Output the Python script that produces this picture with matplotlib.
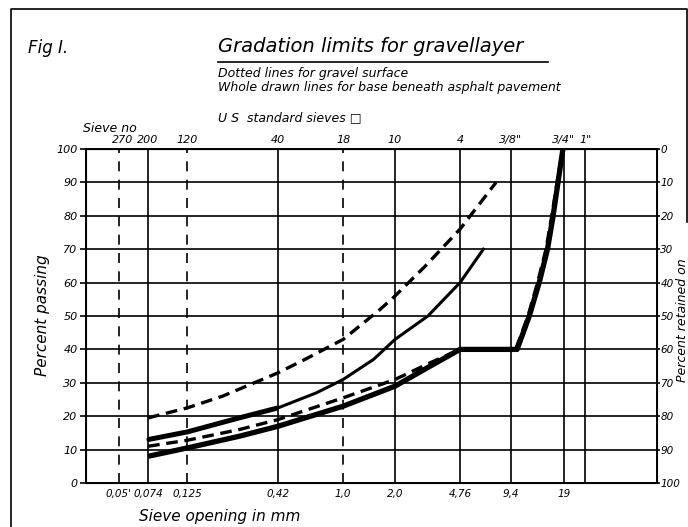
import numpy as np
import matplotlib.pyplot as plt
from matplotlib.lines import Line2D

# sieve openings (mm) and percent passing
up_dash_x = [0.074, 0.125, 0.2, 0.42, 0.6, 1.0, 1.64, 2.0, 3.0, 4.76, 7.7]
up_dash_y = [19.5, 22.5, 26, 33, 37, 43, 52, 56, 65, 76, 90]

up_solid_x = [0.074, 0.125, 0.25, 0.42, 0.7, 1.0, 1.5, 2.0, 3.1, 4.76, 6.5]
up_solid_y = [13, 15.3, 19.5, 22.5, 27, 31, 37, 43, 50, 60, 70]

low_dash_x = [0.074, 0.125, 0.25, 0.42, 1.0, 2.0, 3.2, 4.76, 10.0, 11.8, 13.4, 15.0, 16.2, 17.4, 18.7]
low_dash_y = [11, 12.8, 16, 19, 25.5, 31, 36, 40, 40, 50, 60, 70, 80, 90, 100]

low_solid_x = [0.074, 0.125, 0.25, 0.42, 1.0, 2.0, 3.2, 4.76, 10.2, 12.0, 13.7, 15.3, 16.5, 17.6, 18.8]
low_solid_y = [8, 10.5, 14, 17, 23, 29, 35, 40, 40, 50, 60, 70, 80, 90, 100]

# grid verticals
solid_sieves = [0.074, 0.42, 2.0, 4.76, 9.4, 19, 25.4]
dashed_sieves = [0.05, 0.125, 1.0]

bottom_ticks = [0.05, 0.074, 0.125, 0.42, 1.0, 2.0, 4.76, 9.4, 19]
bottom_labels = ["0,05'", "0,074", "0,125", "0,42", "1,0", "2,0", "4,76", "9,4", "19"]
top_ticks = [0.053, 0.074, 0.125, 0.42, 1.0, 2.0, 4.76, 9.4, 19, 25.4]
top_labels = ["270", "200", "120", "40", "18", "10", "4", "3/8\"", "3/4\"", "1\""]

plt.rcParams['font.family'] = 'DejaVu Sans'
plt.rcParams['font.style'] = 'italic'

fig = plt.figure(figsize=(6.88, 5.27), dpi=100)
ax = fig.add_axes([86/688, 1-483/527, (657-86)/688, (483-149)/527])

ax.set_xscale('log')
ax.set_xlim(0.0323, 66)
ax.set_ylim(0, 100)

for y in range(10, 100, 10):
    ax.axhline(y, color='black', lw=1.2, zorder=1)
for x in solid_sieves:
    ax.axvline(x, color='black', lw=1.2, zorder=1)
for x in dashed_sieves:
    ax.axvline(x, color='black', lw=1.2, ls=(0, (6, 5)), zorder=1)

ax.plot(low_solid_x, low_solid_y, color='black', lw=3.8, solid_capstyle='butt', zorder=3)
ax.plot(up_solid_x, up_solid_y, color='black', lw=2.2, zorder=3)
ax.plot(up_solid_x[:4], up_solid_y[:4], color='black', lw=3.6, solid_capstyle='butt', zorder=3)
ax.plot(up_dash_x, up_dash_y, color='black', lw=2.4, ls=(0, (3.5, 2)), zorder=3)
ax.plot(low_dash_x, low_dash_y, color='black', lw=2.4, ls=(0, (3.5, 2)), zorder=4)

for s in ax.spines.values():
    s.set_linewidth(1.4)

ax.set_xticks(bottom_ticks)
ax.set_xticklabels(bottom_labels, fontsize=7.5)
ax.xaxis.set_minor_locator(plt.NullLocator())
ax.tick_params(axis='x', length=0, pad=4)
ax.set_yticks(range(0, 101, 10))
ax.set_yticklabels([str(v) for v in range(0, 101, 10)], fontsize=8)
ax.tick_params(axis='y', length=4, width=1.2, direction='out', pad=2)

ax2 = ax.twinx()
ax2.set_ylim(100, 0)
ax2.set_yticks(range(0, 101, 10))
ax2.set_yticklabels([str(v) for v in range(0, 101, 10)], fontsize=7.5)
ax2.tick_params(axis='y', length=2, width=1.2, pad=0.5)

top = ax.secondary_xaxis('top')
top.set_xticks(top_ticks)
top.set_xticklabels(top_labels, fontsize=8)
top.xaxis.set_minor_locator(plt.NullLocator())
top.tick_params(length=0, pad=3)

fig.text(220/688, 1-517/527, 'Sieve opening in mm', fontsize=11, ha='center', va='center')
fig.text(43/688, 1-315/527, 'Percent passing', fontsize=11, rotation=90, ha='center', va='center')
fig.text(682/688, 1-320/527, 'Percent retained on', fontsize=9, rotation=90, ha='center', va='center')

fig.text(48/688, 1-48/527, 'Fig I.', fontsize=12, ha='center', va='center')
fig.text(218/688, 1-46/527, 'Gradation limits for gravellayer', fontsize=14, ha='left', va='center')
fig.add_artist(Line2D([218/688, 548/688], [1-62/527, 1-62/527], color='black', lw=1.2))
fig.text(218/688, 1-73/527, 'Dotted lines for gravel surface', fontsize=9, ha='left', va='center')
fig.text(218/688, 1-88/527, 'Whole drawn lines for base beneath asphalt pavement', fontsize=9, ha='left', va='center')
fig.text(218/688, 1-118/527, 'U S  standard sieves \u25a1', fontsize=9, ha='left', va='center')
fig.text(83/688, 1-129/527, 'Sieve no', fontsize=9, ha='left', va='center')

# outer frame (left and top, right only partly as in the scan)
fig.add_artist(Line2D([11/688, 11/688, 687/688, 687/688], [0, 1-9/527, 1-9/527, 1-222/527], color='black', lw=1.2))

fig.savefig('out.png', dpi=100)
